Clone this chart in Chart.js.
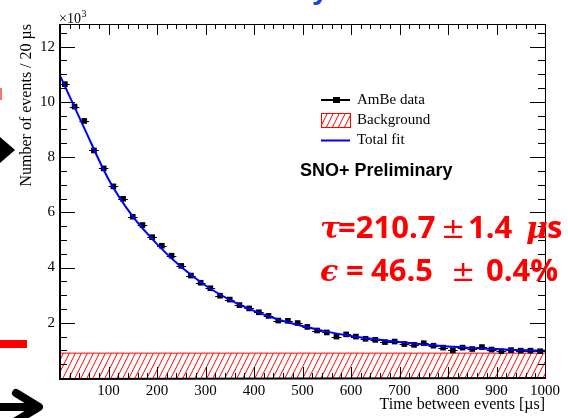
<!DOCTYPE html>
<html>
<head>
<meta charset="utf-8">
<script src="https://cdn.jsdelivr.net/npm/chart.js@4.4.0/dist/chart.umd.min.js"></script>
<style>
  html, body { margin: 0; padding: 0; background: #fff; }
  #wrap { position: relative; width: 568px; height: 418px; }
</style>
</head>
<body>
<div id="wrap"><canvas id="decayChart" width="568" height="418"></canvas></div>
<script>
// histogram bin centres (20 us bins)
const binCentres = [
  10, 30, 50, 70, 90, 110, 130, 150, 170, 190,
  210, 230, 250, 270, 290, 310, 330, 350, 370, 390,
  410, 430, 450, 470, 490, 510, 530, 550, 570, 590,
  610, 630, 650, 670, 690, 710, 730, 750, 770, 790,
  810, 830, 850, 870, 890, 910, 930, 950, 970, 990
];

// AmBe data, events per bin
const ambeCounts = [
  10640, 9830, 9310, 8240, 7590, 6940, 6490, 5840, 5540, 5100,
  4790, 4430, 4060, 3710, 3450, 3250, 2980, 2840, 2640, 2520,
  2380, 2250, 2080, 2070, 1990, 1850, 1720, 1650, 1500, 1580,
  1500, 1420, 1380, 1300, 1320, 1230, 1200, 1260, 1170, 1100,
  1000, 1100, 1050, 1120, 1030, 970, 1010, 990, 990, 970
];

// total fit curve
const fitTimes = [0, 50, 100, 150, 200, 250, 300, 350, 400, 450, 500,
  550, 600, 650, 700, 750, 800, 850, 900, 950, 1000];
const fitValues = [10950, 9050, 7200, 5850, 4850, 4020, 3350, 2830, 2430, 2120, 1880,
  1680, 1520, 1400, 1300, 1210, 1140, 1090, 1050, 1010, 990];

// flat background level
const bgRange = [0, 1000];
const bgLevel = 900;

const xTicks = [100, 200, 300, 400, 500, 600, 700, 800, 900, 1000];
const yTicks = [2000, 4000, 6000, 8000, 10000, 12000];

Chart.defaults.font.family = "'Liberation Serif', serif";
Chart.defaults.color = '#000';

var canvas = document.getElementById('decayChart');
var ctx0 = canvas.getContext('2d');

// red "///" hatch like ROOT fill style 3004
const tile = document.createElement('canvas');
tile.width = 6; tile.height = 12;
const tg = tile.getContext('2d');
tg.strokeStyle = '#ff0000';
tg.lineWidth = 1;
tg.beginPath();
[-6, 0, 6].forEach(function (dx) { tg.moveTo(dx, 12); tg.lineTo(dx + 6, 0); });
tg.stroke();
const hatch = ctx0.createPattern(tile, 'repeat');

const dataPoints = binCentres.map(function (t, i) { return {x: t, y: ambeCounts[i]}; });
const fitPoints = fitTimes.map(function (t, i) { return {x: t, y: fitValues[i]}; });
const bgPoints = bgRange.map(function (t) { return {x: t, y: bgLevel}; });

// error bars on the data (bin half width, sqrt N)
const errorBars = {
  id: 'errorBars',
  afterDatasetDraw(chart, args) {
    if (args.index !== 1) return;
    const {ctx, scales: {x, y}} = chart;
    ctx.save();
    ctx.strokeStyle = '#000';
    ctx.lineWidth = 1;
    ctx.beginPath();
    dataPoints.forEach(function (p) {
      const px = x.getPixelForValue(p.x);
      const py = Math.round(y.getPixelForValue(p.y)) + 0.5;
      ctx.moveTo(x.getPixelForValue(p.x - 10), py);
      ctx.lineTo(x.getPixelForValue(p.x + 10), py);
      const e = Math.sqrt(p.y);
      ctx.moveTo(px, y.getPixelForValue(p.y - e));
      ctx.lineTo(px, y.getPixelForValue(p.y + e));
    });
    ctx.stroke();
    ctx.restore();
  }
};

// ROOT style frame with inward ticks on all four sides
const rootFrame = {
  id: 'rootFrame',
  afterDatasetsDraw(chart) {
    const {ctx, chartArea: a, scales: {x, y}} = chart;
    ctx.save();
    ctx.strokeStyle = '#000';
    ctx.lineWidth = 1;
    ctx.beginPath();
    for (let v = 20; v < 1000; v += 20) {
      const px = Math.round(x.getPixelForValue(v)) + 0.5;
      const len = v % 100 === 0 ? 11 : 5;
      ctx.moveTo(px, a.bottom); ctx.lineTo(px, a.bottom - len);
      ctx.moveTo(px, a.top); ctx.lineTo(px, a.top + len);
    }
    for (let v = 500; v < 12820; v += 500) {
      const py = Math.round(y.getPixelForValue(v)) + 0.5;
      const len = v % 2000 === 0 ? 15 : 7;
      ctx.moveTo(a.left, py); ctx.lineTo(a.left + len, py);
      ctx.moveTo(a.right, py); ctx.lineTo(a.right - len, py);
    }
    ctx.stroke();
    ctx.strokeRect(a.left + 0.5, a.top + 0.5, a.right - a.left, a.bottom - a.top);
    ctx.lineWidth = 2;
    ctx.beginPath();
    ctx.moveTo(a.left, a.top); ctx.lineTo(a.left, a.bottom + 1);
    ctx.lineTo(a.right + 1, a.bottom);
    ctx.stroke();
    ctx.restore();
  }
};

// draw a row of text pieces with different fonts, optional fixed gaps
function drawRuns(ctx, x, y, runs) {
  runs.forEach(function (r) {
    if (r.at !== undefined) x = r.at;
    ctx.font = r.font;
    ctx.fillText(r.text, x, y);
    x += ctx.measureText(r.text).width;
  });
}

// legend, labels and the bits of the slide around the plot
const overlay = {
  id: 'overlay',
  afterDraw(chart) {
    const ctx = chart.ctx;
    ctx.save();
    // x10^3
    ctx.fillStyle = '#000';
    ctx.textBaseline = 'alphabetic';
    ctx.font = "14px 'Liberation Serif'";
    ctx.fillText('\u00d710', 59, 23);
    const w10 = ctx.measureText('\u00d710').width;
    ctx.font = "10px 'Liberation Serif'";
    ctx.fillText('3', 59 + w10 + 0.5, 17);

    // legend
    ctx.strokeStyle = '#000';
    ctx.lineWidth = 2;
    ctx.beginPath(); ctx.moveTo(321, 100); ctx.lineTo(350, 100); ctx.stroke();
    ctx.fillRect(333, 97, 7, 6);
    ctx.fillStyle = hatch;
    ctx.fillRect(321, 113, 30, 14);
    ctx.strokeStyle = '#ff0000';
    ctx.lineWidth = 1;
    ctx.strokeRect(321.5, 113.5, 29, 14);
    ctx.strokeStyle = '#0000ff';
    ctx.lineWidth = 2;
    ctx.beginPath(); ctx.moveTo(321, 140.5); ctx.lineTo(350, 140.5); ctx.stroke();
    ctx.fillStyle = '#000';
    ctx.textBaseline = 'middle';
    ctx.font = "15px 'Liberation Serif'";
    ctx.fillText('AmBe data', 357, 100);
    ctx.fillText('Background', 357, 120);
    ctx.fillText('Total fit', 357, 140);

    ctx.font = "bold 18px 'Liberation Sans'";
    ctx.fillText('SNO+ Preliminary', 300, 171);

    // fit results
    ctx.textBaseline = 'alphabetic';
    ctx.fillStyle = '#ff0000';
    const bold = "bold 31px 'Open Sans', 'Liberation Sans'";
    const greek = "italic bold 30px 'DejaVu Serif'";
    const pm = "29px 'DejaVu Sans'";
    drawRuns(ctx, 320, 238, [
      {text: '\u03c4', font: greek}, {text: '=210.7', font: bold, at: 338},
      {text: '\u00b1', font: pm, at: 441}, {text: '1.4', font: bold, at: 468},
      {text: '\u03bc', font: greek, at: 526}, {text: 's', font: bold, at: 547}
    ]);
    drawRuns(ctx, 320, 281, [
      {text: '\u03f5', font: greek}, {text: '=', font: bold, at: 346},
      {text: '46.5', font: bold, at: 371},
      {text: '\u00b1', font: pm, at: 451}, {text: '0.4%', font: bold, at: 486}
    ]);

    // slide fragments
    ctx.fillStyle = '#2040e0';
    ctx.font = "bold 30px 'Liberation Sans'";
    ctx.fillText('y', 312, -1);
    ctx.fillStyle = '#ff7070';
    ctx.fillRect(0, 88, 2, 12);
    ctx.fillStyle = '#ff0000';
    ctx.fillRect(0, 340, 27, 8);
    ctx.fillStyle = '#000';
    ctx.beginPath();
    ctx.moveTo(0, 137); ctx.lineTo(15, 150); ctx.lineTo(0, 163);
    ctx.closePath(); ctx.fill();
    ctx.strokeStyle = '#000';
    ctx.lineWidth = 8;
    ctx.lineCap = 'round';
    ctx.lineJoin = 'round';
    ctx.beginPath();
    ctx.moveTo(-5, 407); ctx.lineTo(38, 407);
    ctx.moveTo(16, 393); ctx.lineTo(39, 407); ctx.lineTo(16, 421);
    ctx.stroke();
    ctx.restore();
  }
};

const decayChart = new Chart(canvas, {
  type: 'scatter',
  data: {
    datasets: [{
      label: 'Total fit',
      type: 'line',
      data: fitPoints,
      borderColor: '#0000ff',
      borderWidth: 2,
      pointRadius: 0,
      cubicInterpolationMode: 'monotone',
      fill: false
    }, {
      label: 'AmBe data',
      data: dataPoints,
      pointStyle: 'rect',
      pointRadius: 4,
      backgroundColor: '#000',
      borderColor: '#000',
      borderWidth: 0,
      showLine: false
    }, {
      label: 'Background',
      type: 'line',
      data: bgPoints,
      borderColor: '#ff0000',
      borderWidth: 1,
      backgroundColor: hatch,
      pointRadius: 0,
      fill: 'origin'
    }]
  },
  options: {
    responsive: false,
    devicePixelRatio: 1,
    animation: false,
    layout: { padding: { left: 0, right: 23, top: 24, bottom: 0 } },
    plugins: {
      legend: { display: false },
      tooltip: { enabled: false }
    },
    scales: {
      x: {
        type: 'linear',
        min: 0,
        max: 1000,
        afterFit: function (scale) { scale.height = 40; },
        afterBuildTicks: function (scale) { scale.ticks = xTicks.map(function (v) { return {value: v}; }); },
        ticks: {
          font: { size: 15 },
          color: '#000',
          padding: 4,
          maxRotation: 0,
          autoSkip: false,
          callback: function (v) { return String(v); }
        },
        grid: { display: false, drawTicks: false },
        border: { display: false },
        title: {
          display: true,
          text: 'Time between events [\u00b5s]',
          align: 'end',
          font: { size: 16 },
          color: '#000',
          padding: { top: 0, bottom: 4 }
        }
      },
      y: {
        type: 'linear',
        min: 0,
        max: 12820,
        afterFit: function (scale) { scale.width = 60; },
        afterBuildTicks: function (scale) { scale.ticks = yTicks.map(function (v) { return {value: v}; }); },
        ticks: {
          font: { size: 15 },
          color: '#000',
          padding: 5,
          callback: function (v) { return String(v / 1000); }
        },
        grid: { display: false, drawTicks: false },
        border: { display: false },
        title: {
          display: true,
          text: 'Number of events / 20 \u00b5s',
          align: 'end',
          font: { size: 16 },
          color: '#000',
          padding: { top: 17, bottom: 0 }
        }
      }
    }
  },
  plugins: [errorBars, rootFrame, overlay]
});
</script>
</body>
</html>
